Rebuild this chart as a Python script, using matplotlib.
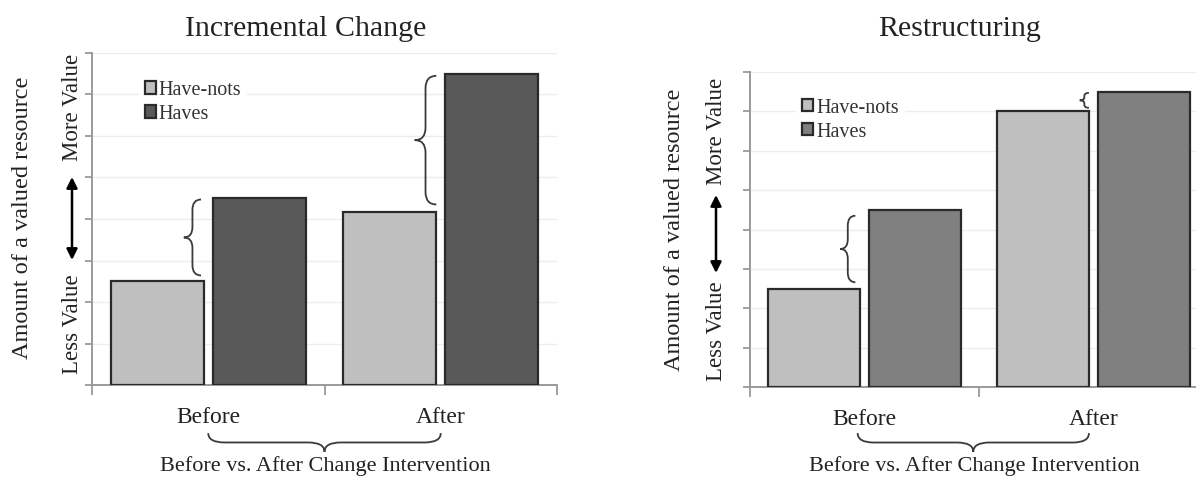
"""
Two grouped bar charts: incremental change vs. restructuring of a valued resource.
"""

import numpy as np
import matplotlib
matplotlib.use('Agg')
import matplotlib.pyplot as plt
from matplotlib.path import Path
from matplotlib.patches import PathPatch

plt.rcParams['font.family'] = ['Liberation Serif', 'DejaVu Serif']

categories = ['Before', 'After']
series_names = ['Have-nots', 'Haves']
titles = ['Incremental Change', 'Restructuring']

incremental_have_nots = [2.5, 4.17]
incremental_haves = [4.5, 7.5]
restructuring_have_nots = [2.5, 7.0]
restructuring_haves = [4.5, 7.5]

y_ticks = list(range(9))
x_caption = 'Before vs. After Change Intervention'
y_caption = 'Amount of a valued resource'

W, H = 1196, 478
fig = plt.figure(figsize=(W / 100, H / 100), dpi=100)


def px_axes(left, top, right, bottom):
    return fig.add_axes([left / W, 1 - bottom / H, (right - left) / W, (bottom - top) / H])


def ftext(x, y, s, **kw):
    # x, y in image pixels measured from the top-left corner
    fig.text(x / W, 1 - y / H, s, color='#222222', **kw)


def brace(ax, a0, a1, back, tip, r, horizontal=False):
    """Curly brace from a0 to a1 along one axis, tip pointing towards `tip`."""
    am = (a0 + a1) / 2
    cm = (back + tip) / 2
    pts = [(a0, back), (a0, cm), (a0 + r, cm), (am - r, cm), (am, cm), (am, tip),
           (am, cm), (am + r, cm), (a1 - r, cm), (a1, cm), (a1, back)]
    if not horizontal:
        pts = [(c, a) for a, c in pts]
    codes = [Path.MOVETO, Path.CURVE3, Path.CURVE3, Path.LINETO, Path.CURVE3, Path.CURVE3,
             Path.CURVE3, Path.CURVE3, Path.LINETO, Path.CURVE3, Path.CURVE3]
    ax.add_patch(PathPatch(Path(pts, codes), fill=False, edgecolor='#3a3a3a',
                           lw=1.3, clip_on=False, zorder=5))


def draw_panel(ax, have_nots, haves, haves_color):
    x = np.arange(len(categories))
    ax.bar(x - 0.22, have_nots, 0.40, color='#bfbfbf', edgecolor='#2a2a2a',
           linewidth=1.6, label=series_names[0], zorder=3)
    ax.bar(x + 0.22, haves, 0.40, color=haves_color, edgecolor='#2a2a2a',
           linewidth=1.6, label=series_names[1], zorder=3)
    ax.set_xlim(-0.5, 1.5)
    ax.set_ylim(0, 8)
    ax.set_yticks(y_ticks)
    ax.set_yticklabels([])
    ax.yaxis.grid(True, color='#ededed', lw=1.0)
    ax.set_axisbelow(True)
    ax.set_xticks(x)
    ax.set_xticklabels(categories, fontsize=17, color='#222222')
    ax.set_xticks([-0.5, 0.5, 1.5], minor=True)
    ax.tick_params(axis='x', which='major', length=0, pad=16)
    ax.tick_params(axis='x', which='minor', length=7, color='#9a9a9a', width=1.3)
    ax.tick_params(axis='y', length=5, color='#9a9a9a', width=1.3)
    for side in ['top', 'right']:
        ax.spines[side].set_visible(False)
    for side in ['left', 'bottom']:
        ax.spines[side].set_color('#9a9a9a')
        ax.spines[side].set_linewidth(1.4)
    ax.legend(loc='upper left', bbox_to_anchor=(0.10, 0.935), fontsize=14.5,
              handlelength=0.55, handleheight=0.55, handletextpad=0.15,
              labelspacing=0.25, borderpad=0.3, borderaxespad=0, frameon=True,
              fancybox=False, edgecolor='none', facecolor='white', framealpha=1,
              labelcolor='#333333')


def axis_labels(x_out, x_in, y_mid, less_mid, arrow_lo, arrow_hi, more_mid):
    ftext(x_out, y_mid, y_caption, rotation=90, ha='center', va='center', fontsize=17.5)
    ftext(x_in, less_mid, 'Less Value', rotation=90, ha='center', va='center', fontsize=16.5)
    ftext(x_in, more_mid, 'More Value', rotation=90, ha='center', va='center', fontsize=16.5)
    plt.annotate('', xy=(x_in, H - arrow_hi), xytext=(x_in, H - arrow_lo),
                 xycoords='figure pixels', textcoords='figure pixels',
                 arrowprops=dict(arrowstyle='<|-|>', color='black', lw=1.8,
                                 mutation_scale=16, shrinkA=0, shrinkB=0))


# Left panel: incremental change
ax1 = px_axes(92, 53, 557, 385)
draw_panel(ax1, incremental_have_nots, incremental_haves, '#595959')
brace(ax1, 2.64, 4.47, -0.031, -0.105, 0.25)
brace(ax1, 4.35, 7.45, 0.981, 0.888, 0.3)
brace(ax1, 0.0, 1.0, -1.16, -1.61, 0.07, horizontal=True)
ftext(306, 29, titles[0], ha='center', va='center', fontsize=21.5)
ftext(325, 471, x_caption, ha='center', va='baseline', fontsize=16)
axis_labels(23, 72, 218, 324, 260, 177, 107)

# Right panel: restructuring
ax2 = px_axes(750, 72, 1208, 387)
draw_panel(ax2, restructuring_have_nots, restructuring_haves, '#808080')
brace(ax2, 2.66, 4.35, -0.04, -0.106, 0.25)
brace(ax2, 7.09, 7.47, 0.98, 0.94, 0.08)
brace(ax2, -0.03, 0.98, -1.17, -1.65, 0.07, horizontal=True)
ftext(960, 29, titles[1], ha='center', va='center', fontsize=21.5)
ftext(974, 471, x_caption, ha='center', va='baseline', fontsize=16)
axis_labels(674, 716, 230, 331, 273, 195, 131)

fig.savefig('out.png', dpi=100, facecolor='white')
